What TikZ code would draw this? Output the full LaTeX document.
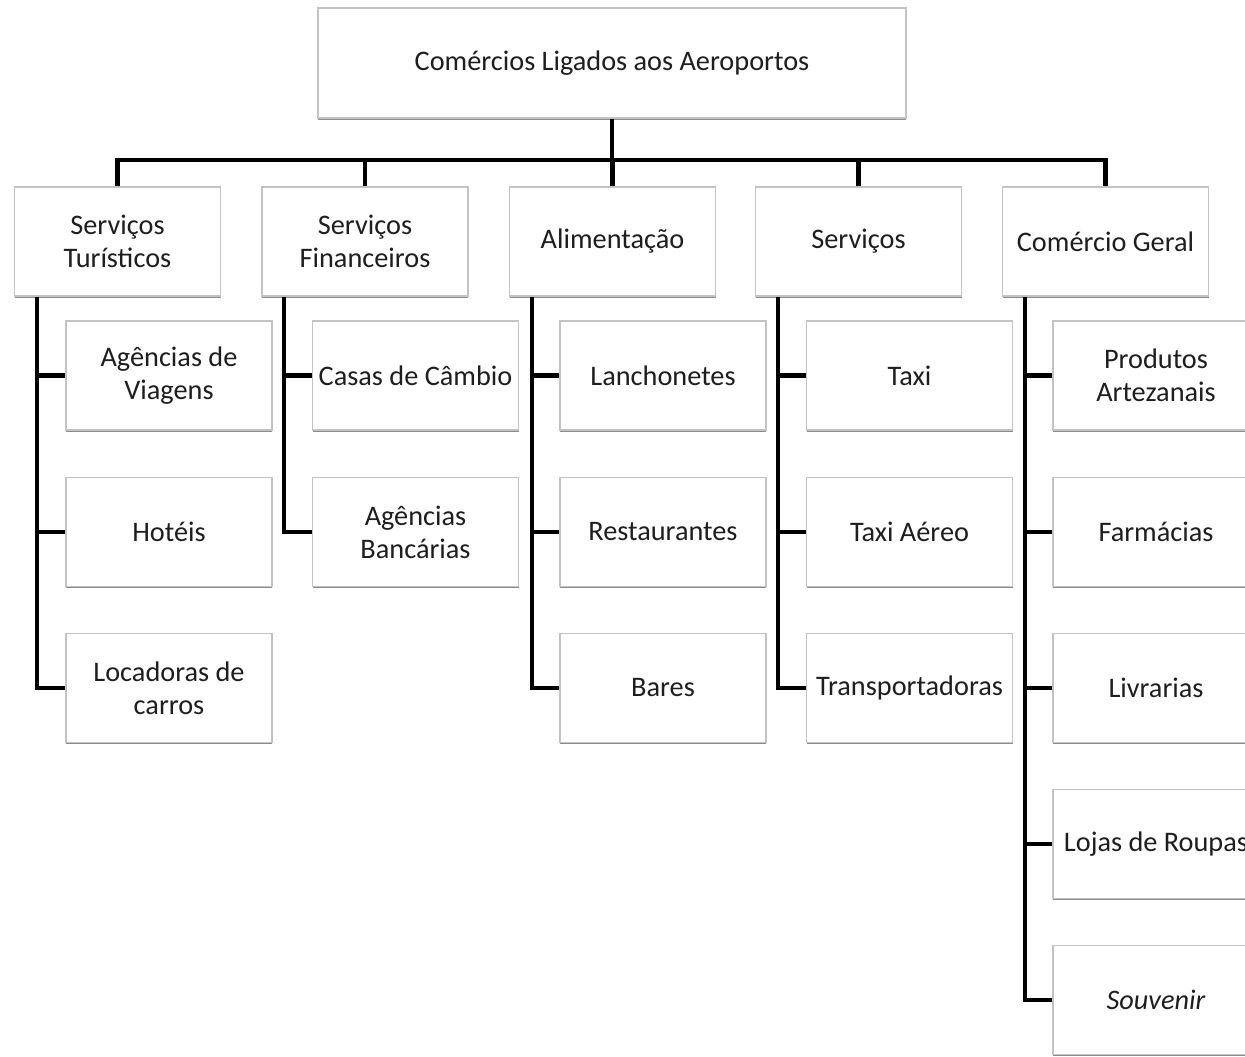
\documentclass[tikz,border=0pt]{standalone}
\usepackage{fontspec}
\setmainfont{Carlito}
\usetikzlibrary{shadows}
\definecolor{boxline}{RGB}{195,195,195}
\definecolor{boxshadow}{RGB}{140,140,140}
\definecolor{txt}{RGB}{30,30,30}
\begin{document}
\begin{tikzpicture}[x=1pt,y=-1pt,
  box/.style={draw=boxline, line width=1.3pt, fill=white, minimum width=206pt, minimum height=109pt,
    align=center, text=txt, font=\fontsize{28.3}{33}\selectfont, inner sep=0pt,
    drop shadow={shadow xshift=0pt, shadow yshift=-1.6pt, fill=boxshadow, opacity=1}},
  conn/.style={line width=4.2pt, black}]
\useasboundingbox (0,0) rectangle (1245,1057);
\clip (0,0) rectangle (1245,1057);
% top
\node[box, minimum width=588pt, minimum height=110pt] (top) at (612,63) {Comércios Ligados aos Aeroportos};
% level 1
\node[box] (a) at (117.5,241.5) {Serviços\\Turísticos};
\node[box] (b) at (365,241.5) {Serviços\\Financeiros};
\node[box] (c) at (612.5,241.5) {Alimentação};
\node[box] (d) at (858.5,241.5) {Serviços};
\node[box] (e) at (1105.5,241.5) {Comércio Geral};
% children
\node[box] (a1) at (169,375.5) {Agências de\\Viagens};
\node[box] (a2) at (169,532) {Hotéis};
\node[box] (a3) at (169,688) {Locadoras de\\carros};
\node[box] (b1) at (415.5,375.5) {Casas de Câmbio};
\node[box] (b2) at (415.5,532) {Agências\\Bancárias};
\node[box] (c1) at (663,375.5) {Lanchonetes};
\node[box] (c2) at (663,532) {Restaurantes};
\node[box] (c3) at (663,688) {Bares};
\node[box] (d1) at (909.5,375.5) {Taxi};
\node[box] (d2) at (909.5,532) {Taxi Aéreo};
\node[box] (d3) at (909.5,688) {Transportadoras};
\node[box] (e1) at (1156,375.5) {Produtos\\Artezanais};
\node[box] (e2) at (1156,532) {Farmácias};
\node[box] (e3) at (1156,688) {Livrarias};
\node[box] (e4) at (1156,844) {Lojas de Roupas};
\node[box] (e5) at (1156,1000) {\itshape Souvenir};
% connectors level 0 -> 1
\coordinate (bar) at (612,160);
\draw[conn] (top.south) -- (bar);
\foreach \n in {a,b,c,d,e}{
  \draw[conn] (bar) -| (\n.north);
}
\draw[conn] (a.north |- bar) -- (e.north |- bar);
% connectors level 1 -> 2
\foreach \p/\last/\kids in {a/a3/{a1,a2,a3}, b/b2/{b1,b2}, c/c3/{c1,c2,c3}, d/d3/{d1,d2,d3}, e/e5/{e1,e2,e3,e4,e5}}{
  \coordinate (\p s) at ([xshift=23pt]\p.south west);
  \draw[conn] (\p s) |- (\last.west);
  \foreach \k in \kids {
    \draw[conn] (\k.west -| \p s) -- (\k.west);
  }
}
\end{tikzpicture}
\end{document}
